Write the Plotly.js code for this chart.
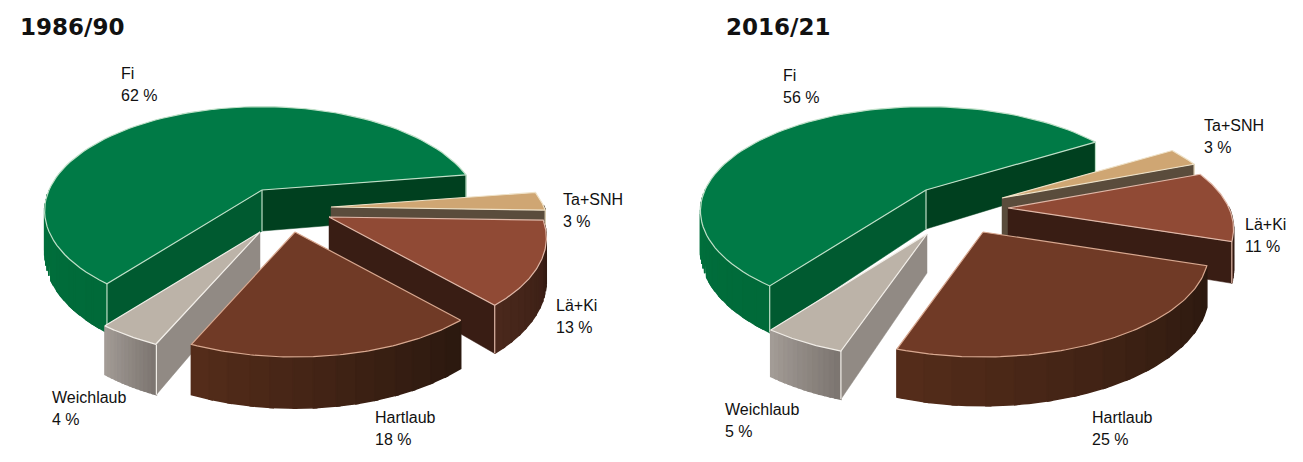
<!DOCTYPE html>
<html>
<head>
<meta charset="utf-8">
<script src="https://cdn.plot.ly/plotly-3.0.1.min.js"></script>
<style>html,body{margin:0;padding:0;background:#fff}#chart{width:1303px;height:462px}</style>
</head>
<body>
<div id="chart"></div>
<script>
// ---- data ----
const categories = ['Fi', 'Ta+SNH', 'Lä+Ki', 'Hartlaub', 'Weichlaub'];
const values1986 = [62, 3, 13, 18, 4];
const values2016 = [56, 3, 11, 25, 5];
const periods = ['1986/90', '2016/21'];

// ---- styling per category ----
const topColors   = ['#007a46', '#cfa673', '#904a35', '#703a26', '#bcb3a8'];
const edgeColors  = ['#bfe0c8', '#efe2c8', '#e0b8a8', '#d8a890', '#f2eee8'];
const wallStart   = ['#00703d', '#5a4c3c', '#4a281c', '#542c1a', '#a39c96'];
const wallEnd     = ['#006a39', '#5a4c3c', '#331a12', '#2c190f', '#7d7671'];
const radialStart = ['#005a30', '#5a4c3c', '#391d14', '#391d14', '#918a84'];
const radialEnd   = ['#00401f', '#5a4c3c', '#391d14', '#391d14', '#918a84'];
const paintOrder  = [0, 1, 2, 4, 3];

// ---- scene set-up for each pie (screen placement of the drawing) ----
const scenes = [
  {values: values1986, cx: 262, cy: 190, rx: 213, ry: 100, h: 41, startDeg: 9,
   shiftX: [0, 69, 67, 33, -2], shiftY: [0, 17, 27, 42, 42],
   titleX: 19, titleY: 27,
   labelX: [120, 562, 555, 374, 51], labelY: [73, 199, 305, 417, 397]},
  {values: values2016, cx: 926, cy: 190, rx: 221, ry: 100, h: 39, startDeg: 32,
   shiftX: [0, 76, 82, 57, 1], shiftY: [0, 8, 18, 42, 44],
   titleX: 725, titleY: 27,
   labelX: [782, 1203, 1244, 1091, 724], labelY: [75, 125, 224, 417, 409]}
];
const PERSP = 5, LINE_GAP = 22, ARC_STEPS = 90, STRIPS = 14;

function hexRgb(h){return [1,3,5].map(i=>parseInt(h.substr(i,2),16));}
function mix(a,b,t){const A=hexRgb(a),B=hexRgb(b);return 'rgb('+A.map((c,i)=>Math.round(c+(B[i]-c)*t)).join(',')+')';}

const traces = [];
function poly(xs, ys, fill, line, w){
  traces.push({type:'scatter', mode:'lines', x:xs.concat(xs[0]), y:ys.concat(ys[0]),
    fill:'toself', fillcolor:fill, line:{color:line, width:w===undefined?1:w},
    hoverinfo:'skip', showlegend:false});
}
function edge(xs, ys, color){
  traces.push({type:'scatter', mode:'lines', x:xs, y:ys, line:{color:color, width:1.2},
    hoverinfo:'skip', showlegend:false});
}

function drawPie(sc){
  const total = sc.values.reduce((a,b)=>a+b,0);
  // Slices run clockwise on screen from startDeg: Ta+SNH, Lä+Ki, Hartlaub, Weichlaub, then Fi.
  const angles = {};
  let a = sc.startDeg;
  [1,2,3,4,0].forEach(i=>{
    const span = sc.values[i]/total*360;
    angles[i] = {a1:a, a2:a-span};
    a -= span;
  });
  paintOrder.forEach(i=>{
    const {a1,a2} = angles[i];
    const ox = sc.cx + sc.shiftX[i], oy = sc.cy + sc.shiftY[i];
    const pt = deg=>{
      const r = deg*Math.PI/180, u = Math.cos(r), v = -Math.sin(r);
      const s = PERSP/(PERSP-v);
      return {x:ox+sc.rx*u*s, y:oy+sc.ry*v*s, s:s, v:v};
    };
    const arc = [];
    for(let k=0;k<=ARC_STEPS;k++) arc.push(pt(a1+(a2-a1)*k/ARC_STEPS));
    const p1 = pt(a1), p2 = pt(a2);
    const radial = (p,c)=>poly([ox,p.x,p.x,ox],[oy,p.y,p.y+sc.h*p.s,oy+sc.h],c,c,0.5);
    const show1 = Math.cos(a1*Math.PI/180) < 0;
    const show2 = -Math.sin((a2-90)*Math.PI/180) > 0;

    // outer curved wall, as overlapping strips shaded from left to right
    const front = arc.filter(p=>p.v>-0.02).sort((p,q)=>p.x-q.x);
    if(front.length>1){
      const n = Math.min(STRIPS, front.length-1);
      for(let s=0;s<n;s++){
        const b = Math.floor(s*(front.length-1)/n), e = Math.min(front.length-1, Math.floor((s+1)*(front.length-1)/n)+1);
        const seg = front.slice(b,e+1);
        const c = mix(wallStart[i], wallEnd[i], s/Math.max(1,n-1));
        const xs = seg.map(p=>p.x).concat(seg.map(p=>p.x).reverse());
        const ys = seg.map(p=>p.y).concat(seg.map(p=>p.y+sc.h*p.s).reverse());
        poly(xs,ys,c,c,1.5);
      }
    }
    // flat cut walls that face the viewer
    if(show1) radial(p1, radialStart[i]);
    if(show2) radial(p2, radialEnd[i]);
    if(show1) edge([p1.x,p1.x],[p1.y,p1.y+sc.h*p1.s],edgeColors[i]);
    if(show2) edge([p2.x,p2.x],[p2.y,p2.y+sc.h*p2.s],edgeColors[i]);
    if(show1 && show2) edge([ox,ox],[oy,oy+sc.h],edgeColors[i]);
    // top face
    poly([ox].concat(arc.map(p=>p.x)), [oy].concat(arc.map(p=>p.y)), topColors[i], edgeColors[i], 1.2);
  });
}
scenes.forEach(drawPie);

const LABEL_FONT = {family:'"Liberation Sans Narrow", "Liberation Sans", sans-serif', size:16, color:'#111'};
const annotations = [];
function note(text,x,y,font){
  annotations.push({text:text, x:x, y:y, xref:'x', yref:'y', xanchor:'left', yanchor:'middle',
    showarrow:false, font:font, align:'left', borderpad:0});
}
scenes.forEach((sc,j)=>{
  note('<b>'+periods[j]+'</b>', sc.titleX, sc.titleY,
       {family:'"DejaVu Sans", sans-serif', size:23, color:'#111'});
  categories.forEach((c,i)=>{
    note(c, sc.labelX[i], sc.labelY[i], LABEL_FONT);
    note(sc.values[i]+' %', sc.labelX[i], sc.labelY[i]+LINE_GAP, LABEL_FONT);
  });
});

Plotly.newPlot('chart', traces, {
  width:1303, height:462, margin:{l:0,r:0,t:0,b:0},
  paper_bgcolor:'#fff', plot_bgcolor:'#fff', showlegend:false,
  xaxis:{range:[0,1303], visible:false, fixedrange:true},
  yaxis:{range:[462,0], visible:false, fixedrange:true},
  annotations:annotations
}, {displayModeBar:false, staticPlot:true});
</script>
</body>
</html>
